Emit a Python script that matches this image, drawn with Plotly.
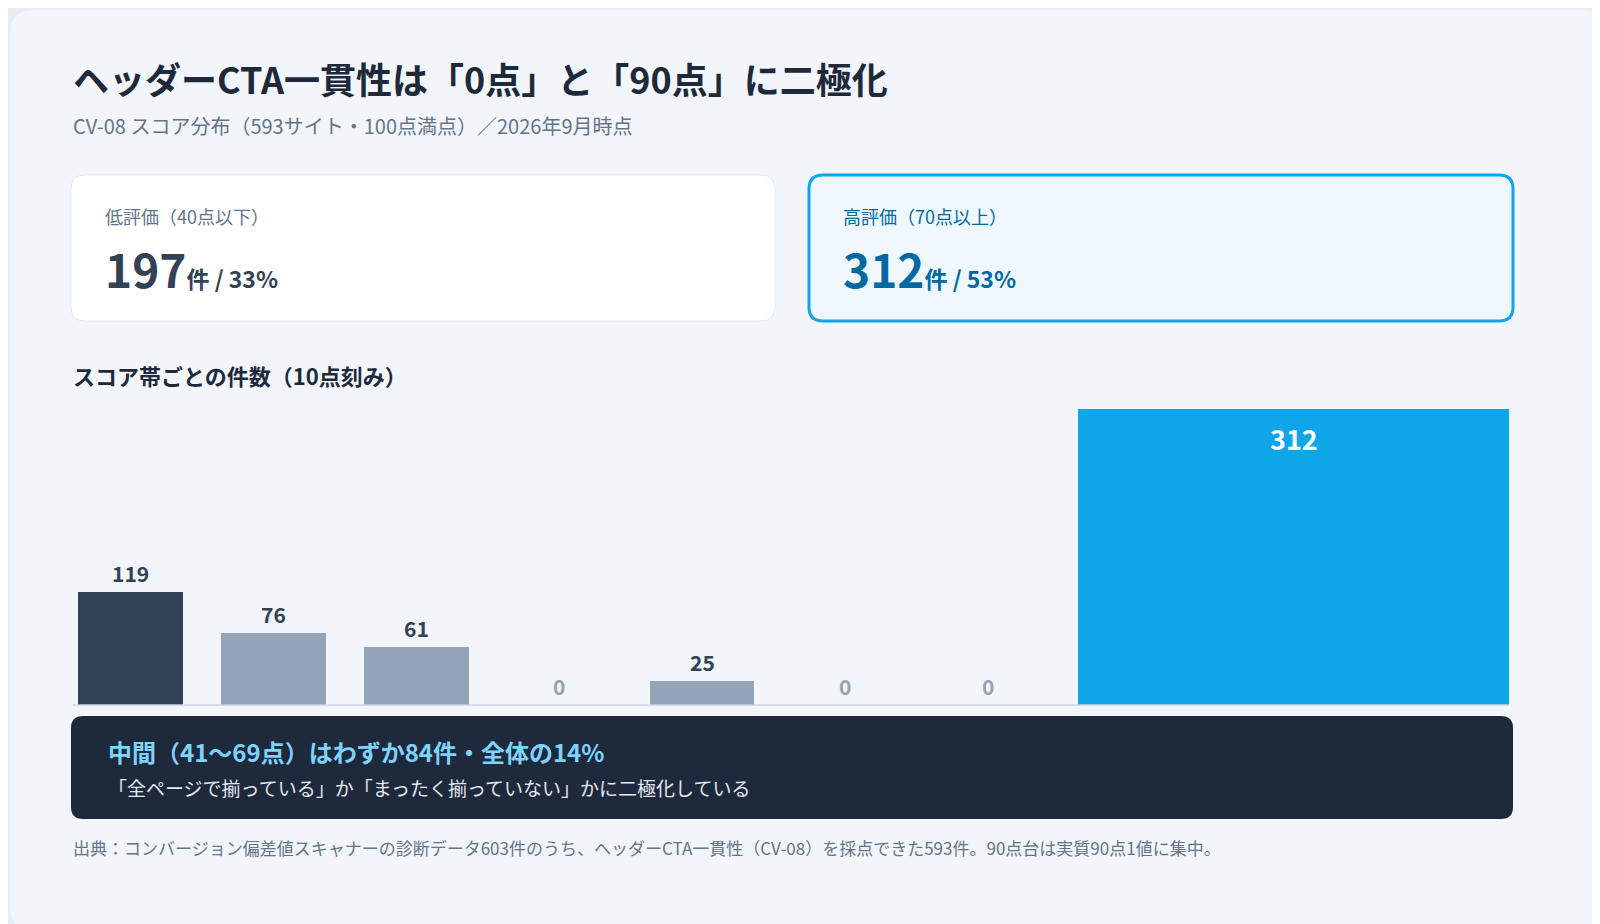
import plotly.graph_objects as go

W, H = 1600, 924
FONT = "Noto Sans CJK JP"

# スコア帯ごとの件数
bands = ["0〜9", "10〜19", "20〜29", "30〜39", "40〜49", "50〜59", "60〜69", "90〜100"]
counts = [119, 76, 61, 0, 25, 0, 0, 312]
xpos = [0, 1, 2, 3, 4, 5, 6, 8.14]
widths = [0.73] * 7 + [3.02]
colors = ["#334155"] + ["#94a3b8"] * 6 + ["#0ea5e9"]

def px(x):
    return x / W

def py(y):
    return 1 - y / H

def rrect(x0, y0, x1, y1, r):
    X = lambda v: px(v)
    Y = lambda v: py(v)
    return (f"M{X(x0+r)},{Y(y0)} L{X(x1-r)},{Y(y0)} Q{X(x1)},{Y(y0)} {X(x1)},{Y(y0+r)} "
            f"L{X(x1)},{Y(y1-r)} Q{X(x1)},{Y(y1)} {X(x1-r)},{Y(y1)} L{X(x0+r)},{Y(y1)} "
            f"Q{X(x0)},{Y(y1)} {X(x0)},{Y(y1-r)} L{X(x0)},{Y(y0+r)} Q{X(x0)},{Y(y0)} {X(x0+r)},{Y(y0)} Z")

fig = go.Figure()
fig.add_trace(go.Bar(
    x=xpos, y=counts, width=widths, marker=dict(color=colors, line=dict(width=0)),
    hovertext=bands, showlegend=False, cliponaxis=False,
))

# 値ラベル
for x, c in zip(xpos, counts):
    if c == 312:
        fig.add_annotation(x=x, y=c, text=f"<b>{c}</b>", showarrow=False, yanchor="top", yshift=-8,
                           font=dict(size=27, color="white", family=FONT))
    else:
        fig.add_annotation(x=x, y=c, text=f"<b>{c}</b>", showarrow=False, yanchor="bottom", yshift=2,
                           font=dict(size=21, color="#94a3b8" if c == 0 else "#334155", family=FONT))

shapes = [
    dict(type="path", xref="paper", yref="paper", path=rrect(2, 2, 1598, 922, 24),
         fillcolor="#f2f5f9", line=dict(width=0), layer="below"),
    dict(type="path", xref="paper", yref="paper", path=rrect(63, 167, 767, 313, 14),
         fillcolor="white", line=dict(color="#e5e9ef", width=1), layer="below"),
    dict(type="path", xref="paper", yref="paper", path=rrect(801, 167, 1505, 313, 14),
         fillcolor="#eff8fe", line=dict(color="#0ea5e9", width=3), layer="below"),
    dict(type="path", xref="paper", yref="paper", path=rrect(63, 708, 1505, 811, 12),
         fillcolor="#1e293b", line=dict(width=0), layer="below"),
    dict(type="line", xref="paper", yref="paper", x0=px(65), x1=px(1501), y0=py(697), y1=py(697),
         line=dict(color="#cbd5e1", width=1.5)),
]

def text(x, y, s, size, color, bold=False):
    fig.add_annotation(xref="paper", yref="paper", x=px(x), y=py(y), xanchor="left", yanchor="middle",
                       text=f"<b>{s}</b>" if bold else s, showarrow=False,
                       font=dict(size=size, color=color, family=FONT))

text(63, 70, "ヘッダーCTA一貫性は「0点」と「90点」に二極化", 36, "#1e293b", True)
text(63, 117, "CV-08 スコア分布（593サイト・100点満点）／2026年9月時点", 20, "#64748b")
text(95, 208, "低評価（40点以下）", 18, "#64748b")
text(95, 260, "<b><span style='font-size:46px'>197</span>件 / 33%</b>", 23, "#334155")
text(833, 208, "高評価（70点以上）", 18, "#0369a1")
text(833, 260, "<b><span style='font-size:46px'>312</span>件 / 53%</b>", 23, "#0369a1")
text(63, 367, "スコア帯ごとの件数（10点刻み）", 22, "#1e293b", True)
text(98, 743, "中間（41〜69点）はわずか84件・全体の14%", 24, "#7dd3fc", True)
text(98, 779, "「全ページで揃っている」か「まったく揃っていない」かに二極化している", 19, "#e2e8f0")
text(63, 839, "出典：コンバージョン偏差値スキャナーの診断データ603件のうち、ヘッダーCTA一貫性（CV-08）を採点できた593件。90点台は実質90点1値に集中。", 17, "#64748b")

fig.update_layout(
    width=W, height=H, margin=dict(l=0, r=0, t=0, b=0),
    paper_bgcolor="#e9edf3", plot_bgcolor="rgba(0,0,0,0)",
    shapes=shapes, bargap=0,
    xaxis=dict(domain=[px(65), px(1501)], range=[-0.402, 9.643], visible=False, fixedrange=True),
    yaxis=dict(domain=[py(697), py(401)], range=[0, 312], visible=False, fixedrange=True),
)

fig.write_html("out.html")
